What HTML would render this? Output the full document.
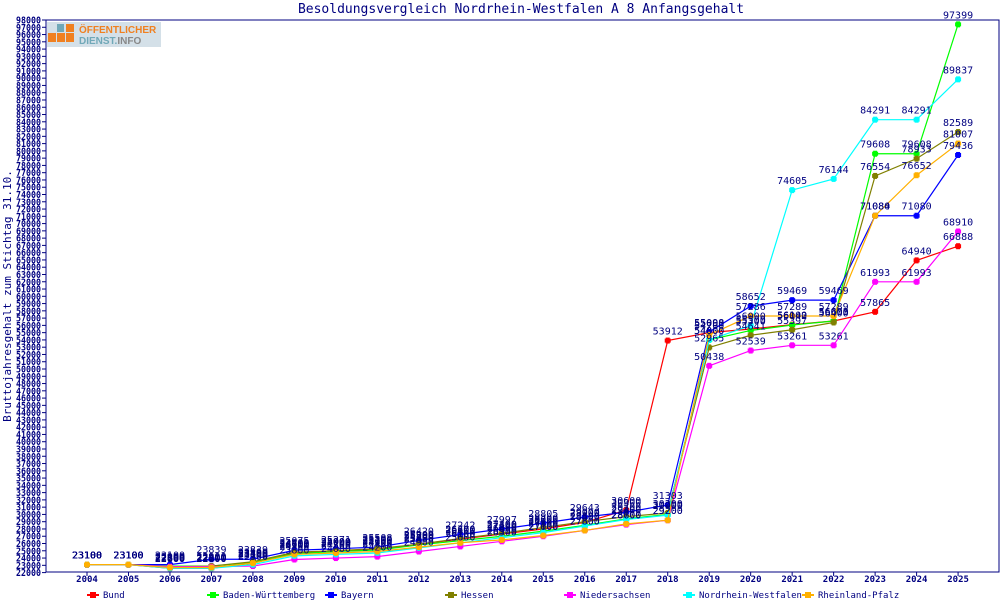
<!DOCTYPE html>
<html><head><meta charset="utf-8">
<style>
html,body{margin:0;padding:0;background:#fff;}
svg{display:block;font-family:"DejaVu Sans Mono","Liberation Mono",monospace;}
</style></head>
<body>
<svg id="c" width="1000" height="600" xmlns="http://www.w3.org/2000/svg">
<rect width="1000" height="600" fill="#fff"/>
<text x="521" y="13" font-size="13" fill="#000080" text-anchor="middle">Besoldungsvergleich Nordrhein-Westfalen A 8 Anfangsgehalt</text>
<text transform="translate(11,296) rotate(-90)" font-size="11" fill="#000080" text-anchor="middle">Bruttojahresgehalt zum Stichtag 31.10.</text>
<g id="logo">
<rect x="47" y="22" width="114" height="25" fill="#d4e0e8"/>
<rect x="48" y="33" width="8" height="9" fill="#f08020"/>
<rect x="57" y="33" width="8" height="9" fill="#f08020"/>
<rect x="66" y="33" width="8" height="9" fill="#f08020"/>
<rect x="66" y="24" width="8" height="8" fill="#f08020"/>
<rect x="57" y="24" width="7" height="8" fill="#70a8b8"/>
<text x="79" y="33" font-size="10" font-weight="bold" fill="#f08020" font-family="Liberation Sans,sans-serif">ÖFFENTLICHER</text>
<text x="79" y="44" font-size="10" font-weight="bold" fill="#70a8b8" font-family="Liberation Sans,sans-serif">DIENST.<tspan fill="#888">INFO</tspan></text>
</g>
<rect x="46" y="20" width="953" height="552" fill="none" stroke="#000080" stroke-width="1"/>
<g id="ax"></g>
<g id="ser"></g>
<g id="lab"></g>
<g id="leg"></g>
</svg>
<script>
var NS="http://www.w3.org/2000/svg";
function el(p,t,a,txt){var e=document.createElementNS(NS,t);for(var k in a)e.setAttribute(k,a[k]);if(txt!=null)e.textContent=txt;p.appendChild(e);return e;}
function Y(v){return 20+(98000-v)*0.007271;}
function X(i){return 87+i*41.48;}
var ax=document.getElementById('ax');
for(var v=22000;v<=98000;v+=1000){var y=Y(v);
el(ax,'line',{x1:42,x2:46,y1:y,y2:y,stroke:'#000080'});
el(ax,'text',{x:16,y:y+3.5,'font-size':10,'font-weight':'bold',fill:'#000080',textLength:25,lengthAdjust:'spacingAndGlyphs'},String(v));}
for(var i=0;i<22;i++){var x=X(i);
el(ax,'line',{x1:x,x2:x,y1:572,y2:576,stroke:'#000080'});
el(ax,'text',{x:x,y:582,'font-size':9,'font-weight':'bold',fill:'#000080','text-anchor':'middle'},String(2004+i));}
var S=[
["Bund","#ff0000",[23100,23100,22600,22600,23300,24700,25000,25200,25900,26600,27300,28000,28900,30600,53912,55000,55500,56100,56603,57865,64940,66888]],
["Baden-Württemberg","#00ff00",[23100,23100,22900,22900,23400,24600,24900,25100,25800,26400,27000,27700,28500,29400,30000,54000,55300,56042,56600,79608,79608,97399]],
["Bayern","#0000ff",[23100,23100,23100,23839,23839,25075,25271,25508,26420,27242,27997,28805,29643,30300,31303,55098,58652,59469,59469,71080,71080,79436]],
["Hessen","#808000",[23100,23100,22800,22900,23500,24800,25000,25300,25900,26700,27400,28200,29000,29700,30200,52965,54641,55397,56400,76554,78933,82589]],
["Niedersachsen","#ff00ff",[23100,23100,22800,22800,22900,23800,24000,24200,24900,25600,26300,27000,27800,28600,29200,50438,52539,53261,53261,61993,61993,68910]],
["Nordrhein-Westfalen","#00ffff",[23100,23100,22600,22600,23100,24300,24500,24700,25400,26100,26800,27500,28400,29300,29900,54000,56000,74605,76144,84291,84291,89837]],
["Rheinland-Pfalz","#ffb000",[23100,23100,22700,22700,23300,24500,24700,24900,25500,26100,26500,27100,27800,28700,29200,54700,57286,57289,57289,71084,76652,81007]]];
var g=document.getElementById('ser'),lb=document.getElementById('lab'),lg=document.getElementById('leg');
var lx=[93,213,331,451,570,689,808];
S.forEach(function(s,k){
var pts=s[2].map(function(v,i){return X(i)+','+Y(v);}).join(' ');
el(g,'polyline',{points:pts,fill:'none',stroke:s[1],'stroke-width':1.2});
s[2].forEach(function(v,i){var x=X(i),y=Y(v);
el(g,'rect',{x:x-3,y:y-2,width:6,height:4,fill:s[1]});
el(g,'rect',{x:x-2,y:y-3,width:4,height:6,fill:s[1]});
el(lb,'text',{x:x,y:y-6,'font-size':10,fill:'#000080','text-anchor':'middle'},String(v));});
var x0=lx[k];
el(lg,'line',{x1:x0-6,x2:x0+6,y1:595,y2:595,stroke:s[1],'stroke-width':2});
el(lg,'rect',{x:x0-3,y:592,width:6,height:6,fill:s[1]});
el(lg,'text',{x:x0+10,y:598,'font-size':9,fill:'#000080'},s[0]);
});
</script>
</body></html>
